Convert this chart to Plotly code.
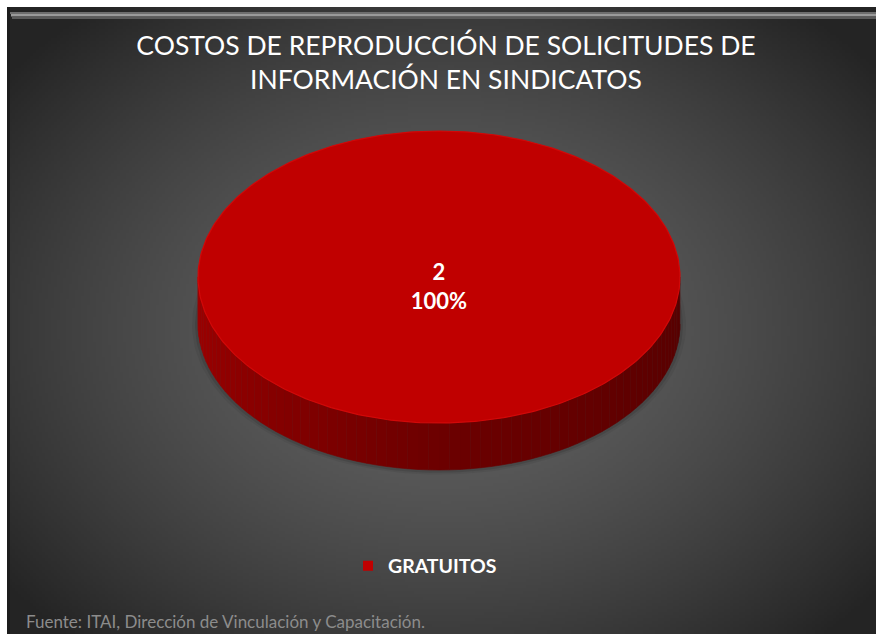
import base64
import struct
import zlib

import numpy as np
import plotly.graph_objects as go

# ---------------- data ----------------
categories = ["GRATUITOS"]
values = [2]
title_lines = ["COSTOS DE REPRODUCCIÓN DE SOLICITUDES DE", "INFORMACIÓN EN SINDICATOS"]
source_text = "Fuente: ITAI, Dirección de Vinculación y Capacitación."

# ---------------- layout constants ----------------
W, H = 876, 634
FRAME_X0, FRAME_Y0 = 7, 7
CX, CY = 439, 277          # centre of the top face
RX, RY = 241, 146          # radii of the top face
DEPTH = 47                 # thickness of the 3D pie
LABEL_DY = 12
face_colors = ["#C00000"]
rim_colors = ["#D20808"]


def png_data_uri(arr):
    h, w, _ = arr.shape
    raw = b"".join(b"\x00" + arr[y].tobytes() for y in range(h))

    def chunk(tag, data):
        c = struct.pack(">I", len(data)) + tag + data
        return c + struct.pack(">I", zlib.crc32(tag + data) & 0xFFFFFFFF)

    png = (b"\x89PNG\r\n\x1a\n"
           + chunk(b"IHDR", struct.pack(">IIBBBBB", w, h, 8, 2, 0, 0, 0))
           + chunk(b"IDAT", zlib.compress(raw, 9))
           + chunk(b"IEND", b""))
    return "data:image/png;base64," + base64.b64encode(png).decode()


# radial gradient background
fw, fh = W - FRAME_X0, H - FRAME_Y0
gw, gh = fw // 3, fh // 3
gx = FRAME_X0 + (np.arange(gw) + 0.5) * fw / gw
gy = FRAME_Y0 + (np.arange(gh) + 0.5) * fh / gh
GX, GY = np.meshgrid(gx, gy)
d = np.sqrt(((GX - 445) / 560) ** 2 + ((GY - 330) / 420) ** 2)
t = np.clip(d, 0, 1) ** 1.5
val = 100 * (1 - t) + 36 * t
img = np.repeat(val[:, :, None], 3, axis=2).astype(np.uint8)
bg_uri = png_data_uri(img)


def lerp_color(c1, c2, f):
    a = [int(c1[i:i + 2], 16) for i in (1, 3, 5)]
    b = [int(c2[i:i + 2], 16) for i in (1, 3, 5)]
    return "rgb(%d,%d,%d)" % tuple(round(a[k] + (b[k] - a[k]) * f) for k in range(3))


fig = go.Figure()

total = float(sum(values))
fracs = [v / total for v in values]

# soft shadow under the pie
for grow, alpha in ((6, 0.06), (3, 0.10)):
    th = np.linspace(0, 2 * np.pi, 200)
    fig.add_trace(go.Scatter(
        x=CX + (RX + grow) * np.cos(th), y=CY + DEPTH + 1 + (RY + grow * 0.6) * np.sin(th),
        mode="lines", fill="toself", fillcolor="rgba(0,0,0,%s)" % alpha,
        line=dict(width=0), hoverinfo="skip", showlegend=False))

# side walls (front half only)
cum = 0.0
N_STRIPS = 72
for i, f in enumerate(fracs):
    a0 = -np.pi / 2 + 2 * np.pi * cum
    a1 = -np.pi / 2 + 2 * np.pi * (cum + f)
    cum += f
    for k in range(N_STRIPS):
        s0 = np.pi * k / N_STRIPS
        s1 = np.pi * (k + 1) / N_STRIPS
        for shift in (0, 2 * np.pi, -2 * np.pi):
            lo = max(s0, a0 + shift)
            hi = min(s1, a1 + shift)
            if hi > lo:
                th = np.linspace(lo, hi, 4)
                xt = CX + RX * np.cos(th)
                yt = CY + RY * np.sin(th)
                xs = np.concatenate([xt, xt[::-1]])
                ys = np.concatenate([yt, (yt + DEPTH)[::-1]])
                m = (lo + hi) / 2 / np.pi  # 0 = right, 1 = left
                if m < 0.5:
                    col = lerp_color("#560000", "#6C0000", m / 0.5)
                else:
                    col = lerp_color("#6C0000", "#A00000", (m - 0.5) / 0.5)
                fig.add_trace(go.Scatter(
                    x=xs, y=ys, mode="lines", fill="toself", fillcolor=col,
                    line=dict(width=0.6, color=col), hoverinfo="skip", showlegend=False))

# top faces
cum = 0.0
label_pos = []
for i, f in enumerate(fracs):
    a0 = -np.pi / 2 + 2 * np.pi * cum
    a1 = -np.pi / 2 + 2 * np.pi * (cum + f)
    cum += f
    th = np.linspace(a0, a1, max(8, int(360 * f)))
    xs = CX + RX * np.cos(th)
    ys = CY + RY * np.sin(th)
    if f < 1:
        xs = np.concatenate([[CX], xs, [CX]])
        ys = np.concatenate([[CY], ys, [CY]])
        am = (a0 + a1) / 2
        label_pos.append((CX + 0.6 * RX * np.cos(am), CY + 0.6 * RY * np.sin(am)))
    else:
        label_pos.append((CX, CY + LABEL_DY))
    fig.add_trace(go.Scatter(
        x=xs, y=ys, mode="lines", fill="toself", fillcolor=face_colors[i],
        line=dict(width=1.2, color=rim_colors[i]), hoverinfo="skip", showlegend=False))

# labels + legend entries
for i, cat in enumerate(categories):
    lx, ly = label_pos[i]
    fig.add_trace(go.Scatter(
        x=[lx], y=[ly], mode="markers+text", name=cat,
        text=["%d<br>%d%%" % (values[i], round(fracs[i] * 100))],
        textposition="middle center",
        textfont=dict(family="Lato", size=22, color="white", weight="bold"),
        marker=dict(symbol="square", size=10, color=face_colors[i], line=dict(width=0)),
        hoverinfo="skip", showlegend=True))

shapes = [
    dict(type="rect", xref="x", yref="y", x0=10, x1=W, y0=12, y1=14,
         fillcolor="#6e6e6e", line=dict(width=0), layer="above"),
    dict(type="rect", xref="x", yref="y", x0=11, x1=W, y0=14, y1=16.5,
         fillcolor="#9a9a9a", line=dict(width=0), layer="above"),
    dict(type="rect", xref="x", yref="y", x0=12, x1=W, y0=16.5, y1=19,
         fillcolor="#5a5a5a", line=dict(width=0), layer="above"),
    dict(type="rect", xref="x", yref="y", x0=FRAME_X0, x1=FRAME_X0 + 3, y0=FRAME_Y0, y1=H,
         fillcolor="#1c1c1c", line=dict(width=0), layer="above"),
]

fig.update_layout(
    width=W, height=H,
    margin=dict(l=0, r=0, t=0, b=0),
    paper_bgcolor="white",
    plot_bgcolor="rgba(0,0,0,0)",
    xaxis=dict(range=[0, W], visible=False, fixedrange=True),
    yaxis=dict(range=[H, 0], visible=False, fixedrange=True),
    images=[dict(source=bg_uri, xref="paper", yref="paper",
                 x=FRAME_X0 / W, y=1 - FRAME_Y0 / H,
                 sizex=(W - FRAME_X0) / W, sizey=(H - FRAME_Y0) / H,
                 xanchor="left", yanchor="top", sizing="stretch", layer="below")],
    shapes=shapes,
    title=dict(text="<br>".join(title_lines), x=446 / W, y=1 - 55 / H,
               xanchor="center", yanchor="middle",
               font=dict(family="Lato", size=26.5, color="white")),
    showlegend=True,
    legend=dict(orientation="h", x=348 / W, y=1 - 566 / H, xanchor="left", yanchor="middle",
                bgcolor="rgba(0,0,0,0)",
                font=dict(family="Lato", size=19.5, color="white", weight="bold")),
    annotations=[dict(text=source_text, xref="x", yref="y", x=24, y=621,
                      xanchor="left", yanchor="middle", showarrow=False,
                      font=dict(family="Lato", size=17, color="#8c8c8c"))],
)

fig.write_html(
    "out.html",
    config={"displayModeBar": False},
    post_script="document.body.style.margin='0';document.body.style.overflow='hidden';",
)
